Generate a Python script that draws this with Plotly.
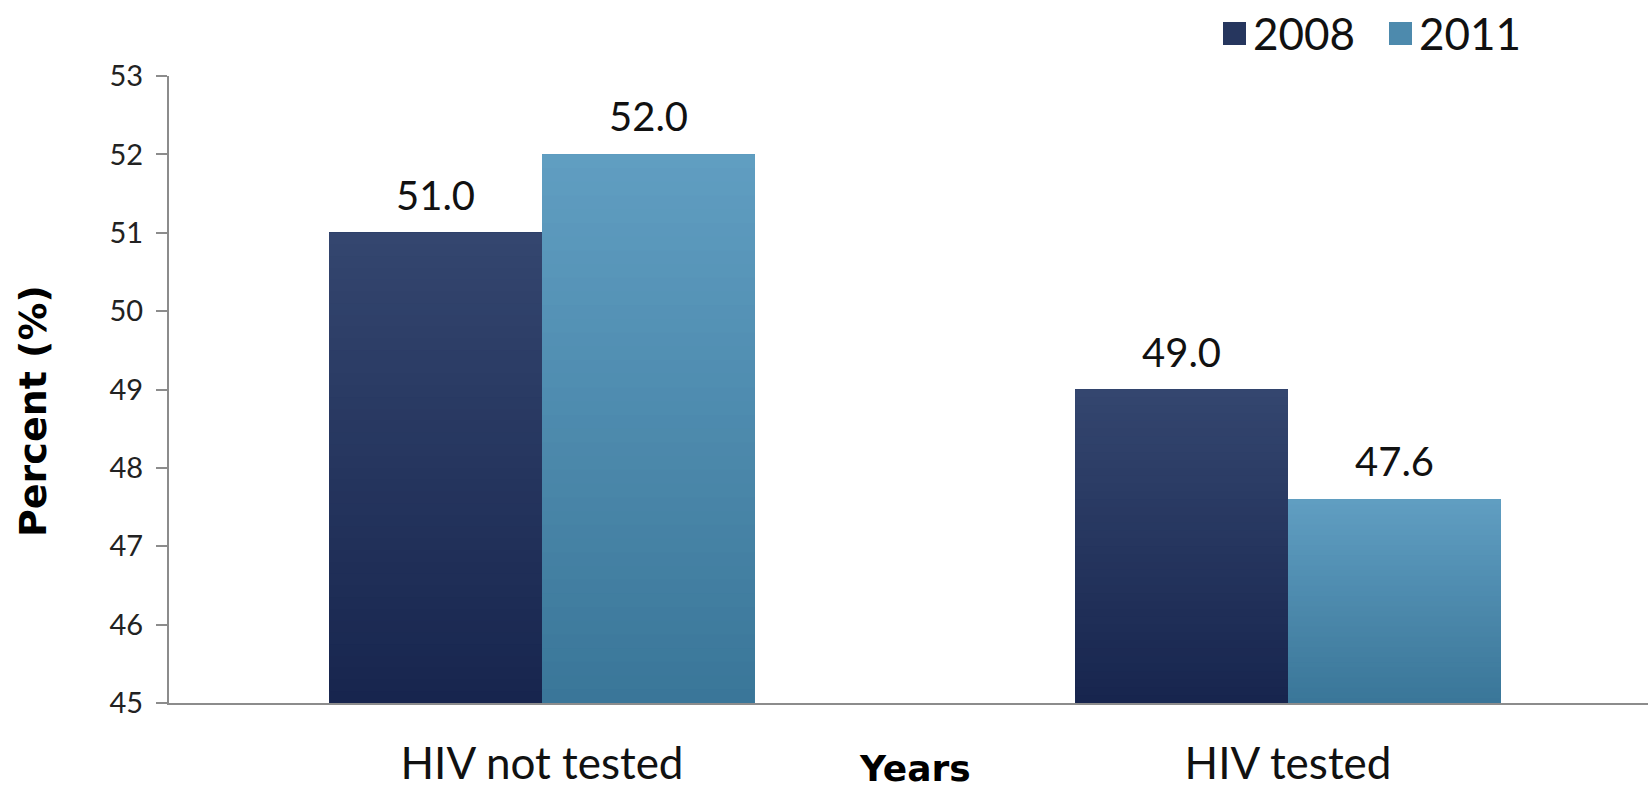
import plotly.graph_objects as go

# Survey results by HIV testing status
categories = ["HIV not tested", "HIV tested"]
years = ["2008", "2011"]
values_2008 = [51.0, 49.0]
values_2011 = [52.0, 47.6]
y_ticks = [45, 46, 47, 48, 49, 50, 51, 52, 53]

series = [
    ("2008", values_2008, (52, 70, 111), (23, 37, 78), -0.2855),
    ("2011", values_2011, (96, 158, 194), (58, 118, 152), 0.0),
]

Y0 = 45
BAR_W = 0.2855
N_SLICES = 40

W, H = 1648, 791
L, R, T, B = 169, 0, 76, 88
PW, PH = W - L - R, H - T - B


def px_x(px):
    return (px - L) / PW


def px_y(py):
    return (H - B - py) / PH


def mix(top, bottom, f):
    return "rgb({},{},{})".format(*[round(b + (t - b) * f) for t, b in zip(top, bottom)])


fig = go.Figure()
x_idx = list(range(len(categories)))

# each bar is built from overlapping layers, each reaching the bar's value,
# so the fill shades from dark (bottom) to light (top) without seams
for name, vals, top, bottom, offset in series:
    for k in range(N_SLICES):
        f0 = k / N_SLICES
        bases = [Y0 + (v - Y0) * f0 for v in vals]
        fig.add_trace(go.Bar(
            x=x_idx,
            base=bases,
            y=[v - b for v, b in zip(vals, bases)],
            width=BAR_W,
            offset=offset,
            marker=dict(color=mix(top, bottom, (k + 0.5) / N_SLICES), line=dict(width=0)),
            showlegend=False,
            hoverinfo="skip",
        ))
    # value labels above the bars
    for i, v in enumerate(vals):
        fig.add_annotation(
            x=i + offset + BAR_W / 2, y=v, xref="x", yref="y",
            text=f"{v:.1f}", showarrow=False, yanchor="bottom", yshift=12,
            font=dict(family="Lato", size=40, color="#111"),
        )

# legend swatches and labels
legend_items = [("2008", 1223, (52, 70, 111), (23, 37, 78)), ("2011", 1389, (96, 158, 194), (58, 118, 152))]
for label, x0, top, bottom in legend_items:
    fig.add_shape(
        type="rect", xref="paper", yref="paper",
        x0=px_x(x0), x1=px_x(x0 + 23), y0=px_y(45), y1=px_y(22),
        fillcolor=mix(top, bottom, 0.5), line=dict(width=0),
    )
    fig.add_annotation(
        x=px_x(x0 + 28), y=px_y(33), xref="paper", yref="paper",
        text=label, showarrow=False, xanchor="left", yanchor="middle",
        font=dict(family="Lato", size=44, color="#111"),
    )

# axis titles
fig.add_annotation(
    x=px_x(33), y=px_y(411), xref="paper", yref="paper",
    text="<b>Percent (%)</b>", showarrow=False, textangle=-90,
    xanchor="center", yanchor="middle",
    font=dict(family="DejaVu Sans", size=38, color="#000"),
)
fig.add_annotation(
    x=px_x(915), y=px_y(768), xref="paper", yref="paper",
    text="<b>Years</b>", showarrow=False,
    xanchor="center", yanchor="middle",
    font=dict(family="DejaVu Sans", size=36, color="#000"),
)

x_right = 1.5 - 13 / 746

fig.update_layout(
    width=W, height=H,
    margin=dict(l=L, r=R, t=T, b=B),
    barmode="overlay",
    plot_bgcolor="white", paper_bgcolor="white",
    showlegend=False,
    xaxis=dict(
        range=[-0.5, x_right],
        tickvals=x_idx, ticktext=categories,
        showgrid=False, zeroline=False, automargin=False,
        showline=True, linecolor="#8c8c8c", linewidth=2,
        ticks="", ticklabelstandoff=21,
        tickfont=dict(family="Lato", size=44, color="#111"),
    ),
    yaxis=dict(
        range=[45, 53],
        tickvals=y_ticks,
        showgrid=False, zeroline=False, automargin=False,
        showline=True, linecolor="#8c8c8c", linewidth=2,
        ticks="outside", ticklen=11, tickwidth=2, tickcolor="#8c8c8c",
        ticklabelstandoff=7,
        tickfont=dict(family="Lato", size=29, color="#222"),
    ),
)

fig.write_html("out.html")
